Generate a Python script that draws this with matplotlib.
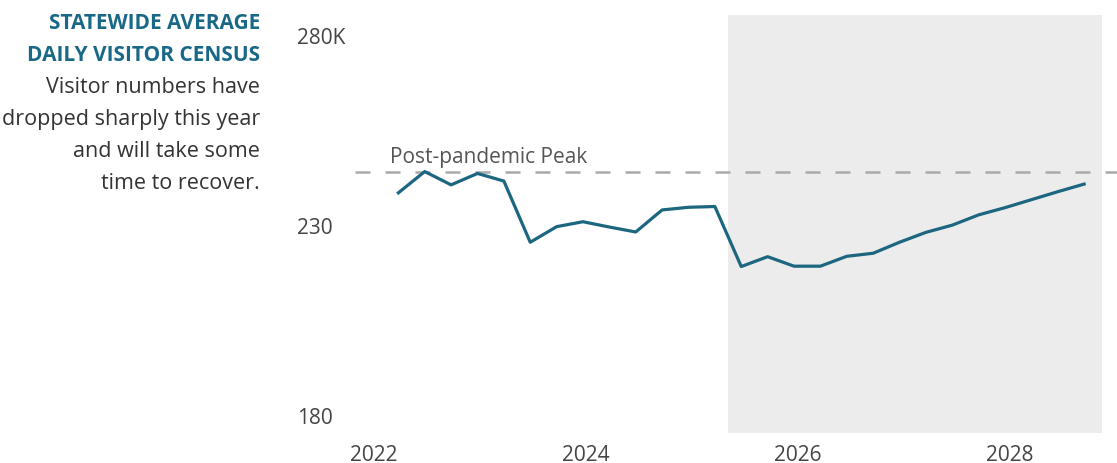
import numpy as np
import matplotlib.pyplot as plt
from matplotlib.transforms import blended_transform_factory

plt.rcParams['font.family'] = ['Open Sans', 'DejaVu Sans']

# quarterly census, thousands of visitors, 2022 Q2 .. 2028 Q4
census = [238.2, 243.8, 240.3, 243.3, 241.3, 225.2, 229.3, 230.6, 229.2,
          227.9, 233.7, 234.4, 234.6, 218.8, 221.4, 218.9, 218.9, 221.5,
          222.3, 225.2, 227.8, 229.7, 232.4, 234.3, 236.4, 238.5, 240.5]
first_quarter, last_quarter = 2022.23, 2028.70
peak_value = 243.8
forecast_span = (2025.34, 2028.87)
year_ticks = [2022, 2024, 2026, 2028]
value_ticks = [180, 230, 280]
value_labels = ['180', '230', '280K']
title_lines = ['STATEWIDE AVERAGE', 'DAILY VISITOR CENSUS']
note_lines = ['Visitor numbers have', 'dropped sharply this year',
              'and will take some', 'time to recover.']

quarters = np.linspace(first_quarter, last_quarter, len(census))

W, H = 1117, 464
fig = plt.figure(figsize=(W / 100, H / 100), dpi=100)
ax = fig.add_axes([355 / W, 1 - 434 / H, 1 - 355 / W, (434 - 16) / H])

line_color = '#1c6680'
ax.axvspan(*forecast_span, color='#ececec', lw=0, zorder=0)
ax.axhline(peak_value, color='#aaaaaa', lw=1.8, dashes=(6, 6), zorder=1)
ax.plot(quarters, census, color=line_color, lw=2.3, zorder=2)
ax.text(2022.15, peak_value + 1.2, 'Post-pandemic Peak', color='#555555',
        fontsize=15, ha='left', va='bottom')

ax.set_xlim(2021.821, 2029.01)
ax.set_ylim(175, 285)
for s in ax.spines.values():
    s.set_visible(False)
ax.set_yticks([])
ax.set_xticks(year_ticks)
ax.set_xticklabels([str(y) for y in year_ticks])
ax.tick_params(axis='x', length=0, pad=8, labelsize=15, labelcolor='#444444')

trans = blended_transform_factory(ax.transAxes, ax.transData)
for v, lab in zip(value_ticks, value_labels):
    ax.text((297 - 355) / (W - 355), v - 0.8, lab, transform=trans, ha='left',
            va='center', fontsize=15, color='#444444')

# left side caption
for i, t in enumerate(title_lines):
    fig.text(260 / W, 1 - (29 + 32 * i) / H, t, ha='right', va='baseline',
             fontsize=15, fontweight='bold', color='#1a6888')
for i, t in enumerate(note_lines):
    fig.text(260 / W, 1 - (93 + 32 * i) / H, t, ha='right', va='baseline',
             fontsize=15.5, color='#333333')

fig.savefig('out.png', dpi=100)
